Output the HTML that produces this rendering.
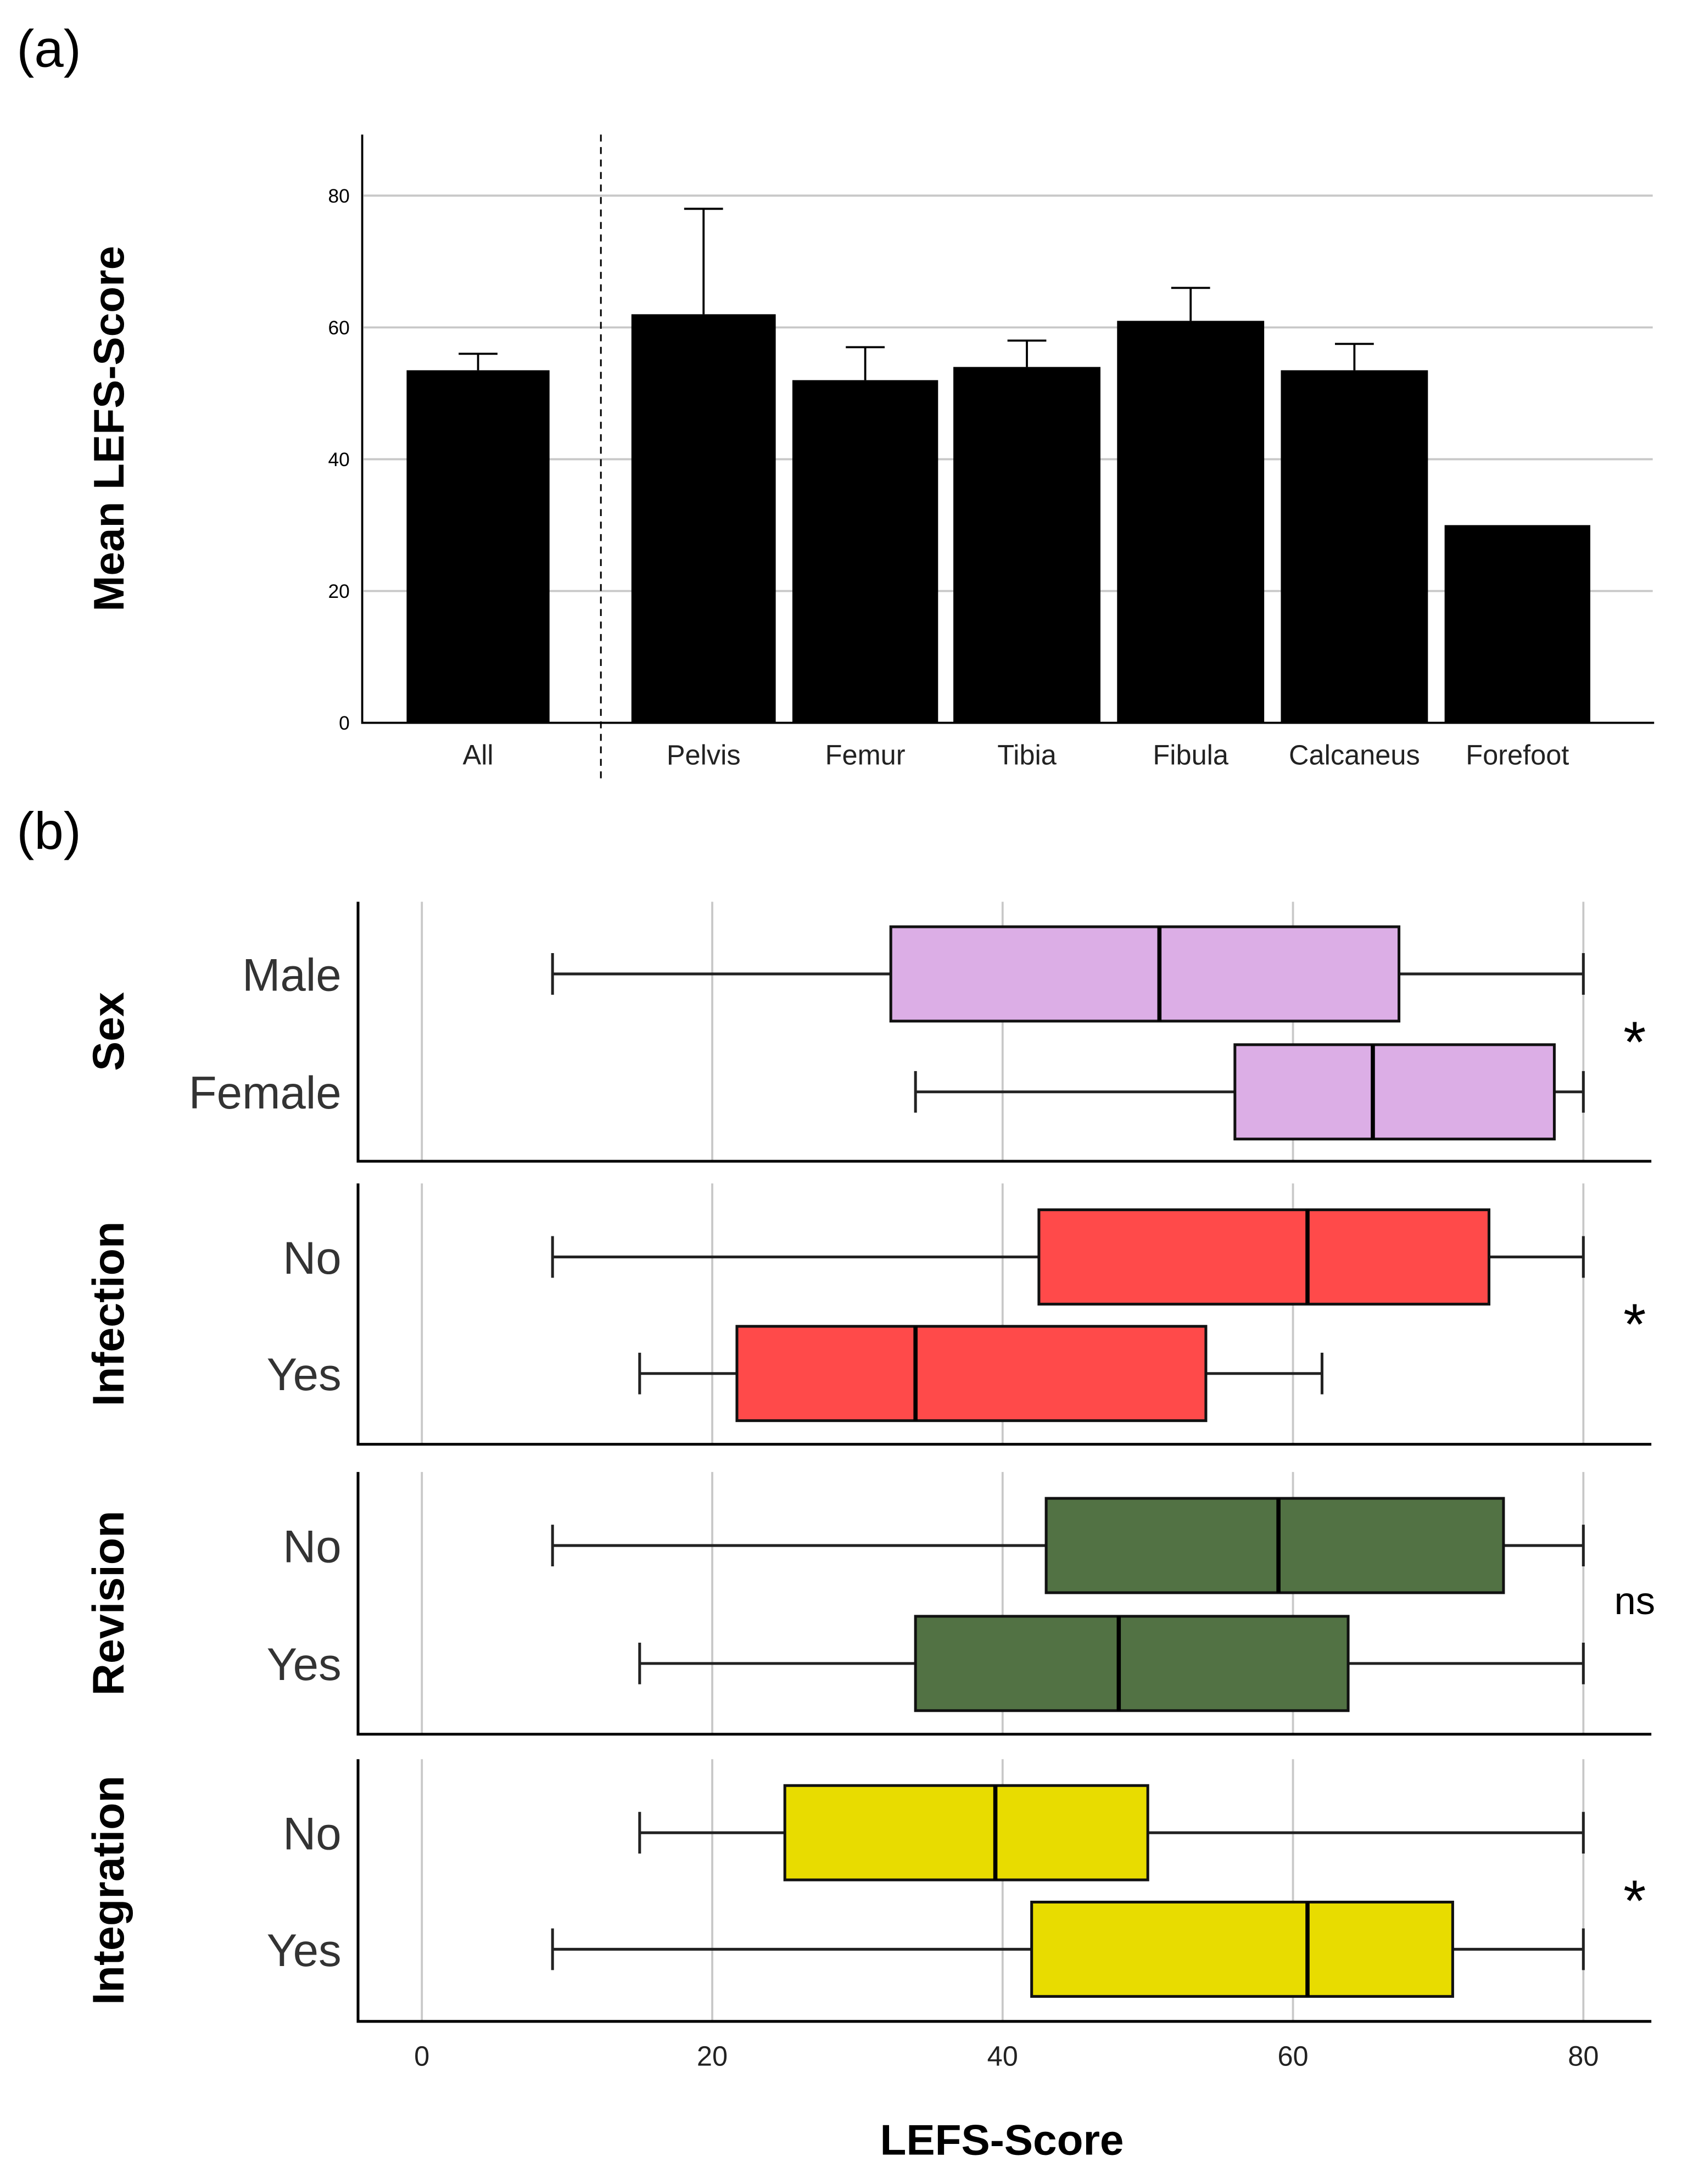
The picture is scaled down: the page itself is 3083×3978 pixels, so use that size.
<!DOCTYPE html>
<html><head><meta charset="utf-8"><style>
html,body{margin:0;padding:0;background:#fff}
svg{display:block;font-family:"Liberation Sans",sans-serif}
</style></head><body>
<svg id="fig" width="3083" height="3978" viewBox="0 0 1220 1574.2">
<text x="12" y="48" font-size="38">(a)</text>
<text x="12" y="612" font-size="38">(b)</text>
<g id="a"></g>
<g id="b"></g>
</svg>
<script>
const barCats=["All","Pelvis","Femur","Tibia","Fibula","Calcaneus","Forefoot"];
const barMeans=[53.5,62,52,54,61,53.5,30];
const barErrs=[56,78,57,58,66,57.5,null];
const barTicks=[0,20,40,60,80];
const groups=["Sex","Infection","Revision","Integration"];
const rowLabels=[["Male","Female"],["No","Yes"],["No","Yes"],["No","Yes"]];
const boxMin=[[9,34],[9,15],[9,15],[15,9]];
const boxQ1=[[32.3,56],[42.5,21.7],[43,34],[25,42]];
const boxMed=[[50.8,65.5],[61,34],[59,48],[39.5,61]];
const boxQ3=[[67.3,78],[73.5,54],[74.5,63.8],[50,71]];
const boxMax=[[80,80],[80,62],[80,80],[80,80]];
const sigMarks=["*","*","ns","*"];
const groupColors=["#dcaee6","#ff4a4a","#527244","#e8dc00"];
const xTicks=[0,20,40,60,80];
const NS="http://www.w3.org/2000/svg";
function mk(p,t,a,txt){const e=document.createElementNS(NS,t);for(const k in a)e.setAttribute(k,a[k]);if(txt!=null)e.textContent=txt;p.appendChild(e);return e;}
// Chart A
const A=document.getElementById('a');
const ya=v=>521-v*(380/80);
const barX=[293,455,571,687,805,923,1041], barW=[103,104,105,106,106,106,105];
barTicks.forEach(t=>{
 if(t>0){const g=mk(A,'line',{x1:262,x2:1191,y1:ya(t),y2:ya(t),stroke:'#c8c8c8','stroke-width':1.5});
 }
 const l=mk(A,'text',{x:252,y:ya(t)+5,'font-size':14,'text-anchor':'end'},t);
 
});
barCats.forEach((c,i)=>{
 const x=barX[i],w=barW[i],cx=x+w/2;
 const r=mk(A,'rect',{x:x,y:ya(barMeans[i]),width:w,height:ya(0)-ya(barMeans[i]),fill:'#000'});
 
 if(barErrs[i]!=null){
  const e=mk(A,'path',{d:`M${cx} ${ya(barMeans[i])}V${ya(barErrs[i])}M${cx-14} ${ya(barErrs[i])}H${cx+14}`,stroke:'#000','stroke-width':1.5,fill:'none'});
  
 }
 const l=mk(A,'text',{x:cx,y:551,'font-size':20,'text-anchor':'middle',fill:'#222'},c);
 
});
let ax=mk(A,'path',{d:'M261 97V521H1192',stroke:'#000','stroke-width':1.5,fill:'none'});

let dv=mk(A,'line',{x1:433,x2:433,y1:97,y2:565,stroke:'#000','stroke-width':1.2,'stroke-dasharray':'5,4'});

let yt=mk(A,'text',{x:0,y:0,'font-size':31,'font-weight':'bold','text-anchor':'middle',transform:'translate(89,309) rotate(-90)'},'Mean LEFS-Score');

// Chart B
const B=document.getElementById('b');
const xb=v=>304+v*(837/80);
const panelTop=[650,853,1061,1268], panelBot=[837,1041,1250,1457];
const rowY=[[702,787],[906,990],[1114,1199],[1321,1405]];
groups.forEach((g,gi)=>{
 xTicks.forEach(t=>{const l=mk(B,'line',{x1:xb(t),x2:xb(t),y1:panelTop[gi],y2:panelBot[gi],stroke:'#c8c8c8','stroke-width':1.5});
  });
 const ax=mk(B,'path',{d:`M258 ${panelTop[gi]}V${panelBot[gi]}H1190`,stroke:'#000','stroke-width':2,fill:'none'});
 
 const gt=mk(B,'text',{x:0,y:0,'font-size':32,'font-weight':'bold','text-anchor':'middle',transform:`translate(89,${(panelTop[gi]+panelBot[gi])/2}) rotate(-90)`},g);
 
 const sg=mk(B,'text',{x:1178,y:(panelTop[gi]+panelBot[gi])/2+(sigMarks[gi]=="*"?22:8),'font-size':sigMarks[gi]=="*"?42:28,'text-anchor':'middle'},sigMarks[gi]);
 
 [0,1].forEach(r=>{
  const y=rowY[gi][r],h=34;
  const lb=mk(B,'text',{x:246,y:y+12,'font-size':33,'text-anchor':'end',fill:'#333'},rowLabels[gi][r]);
  
  const w=mk(B,'path',{d:`M${xb(boxMin[gi][r])} ${y}H${xb(boxMax[gi][r])}M${xb(boxMin[gi][r])} ${y-15}V${y+15}M${xb(boxMax[gi][r])} ${y-15}V${y+15}`,stroke:'#222','stroke-width':2,fill:'none'});
  
  const bx=mk(B,'rect',{x:xb(boxQ1[gi][r]),y:y-h,width:xb(boxQ3[gi][r])-xb(boxQ1[gi][r]),height:2*h,fill:groupColors[gi],stroke:'#111','stroke-width':2});
  
  const md=mk(B,'line',{x1:xb(boxMed[gi][r]),x2:xb(boxMed[gi][r]),y1:y-h,y2:y+h,stroke:'#000','stroke-width':3});
  
 });
});
xTicks.forEach(t=>{const l=mk(B,'text',{x:xb(t),y:1489,'font-size':20,'text-anchor':'middle',fill:'#222'},t);
 });
let xt=mk(B,'text',{x:722,y:1553,'font-size':31,'font-weight':'bold','text-anchor':'middle'},'LEFS-Score');

</script>
</body></html>
